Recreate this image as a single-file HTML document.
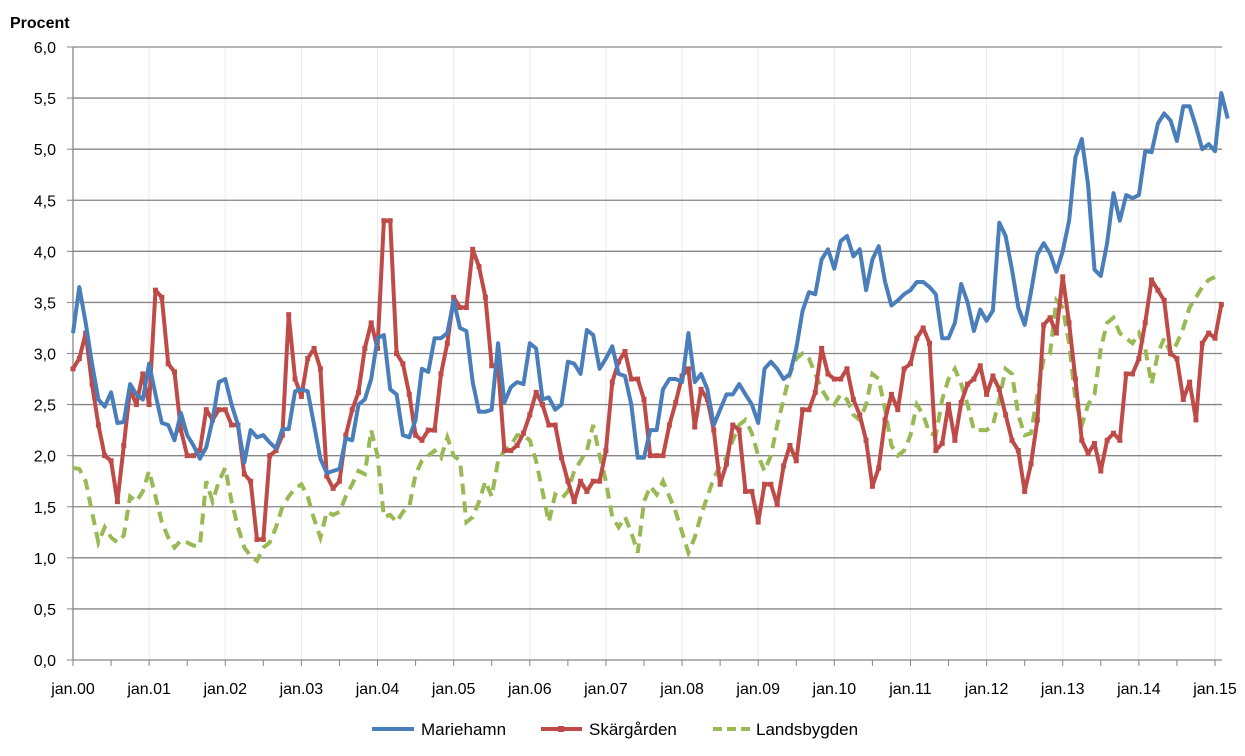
<!DOCTYPE html>
<html><head><meta charset="utf-8"><style>
body{margin:0;background:#fff;}
svg{display:block;font-family:"Liberation Sans",sans-serif;}
</style></head><body>
<svg id="chart" width="1245" height="756">
<text x="10" y="28" font-size="16" font-weight="bold" fill="#000">Procent</text>
<g id="grid"></g><g id="axes"></g><g id="series"></g>
<g>
<g><line x1="372" y1="729" x2="414" y2="729" stroke="#4A7EBB" stroke-width="4"/><text x="421" y="735" font-size="17">Mariehamn</text></g>
<g><line x1="541" y1="729" x2="582" y2="729" stroke="#BE4B48" stroke-width="4"/><rect x="558" y="726" width="6" height="6" fill="#BE4B48"/><text x="589" y="735" font-size="17">Skärgården</text></g>
<g><line x1="713" y1="729" x2="752" y2="729" stroke="#98B954" stroke-width="4" stroke-dasharray="9,5"/><text x="756" y="735" font-size="17">Landsbygden</text></g>
</g>
</svg>
<script>
const yTicks=["0,0","0,5","1,0","1,5","2,0","2,5","3,0","3,5","4,0","4,5","5,0","5,5","6,0"];
const xLabels=["jan.00","jan.01","jan.02","jan.03","jan.04","jan.05","jan.06","jan.07","jan.08","jan.09","jan.10","jan.11","jan.12","jan.13","jan.14","jan.15"];
const mariehamn=[3.2,3.65,3.3,2.9,2.55,2.48,2.62,2.32,2.33,2.7,2.6,2.55,
2.9,2.6,2.32,2.3,2.15,2.42,2.2,2.1,1.97,2.08,2.35,2.72,
2.75,2.5,2.3,1.93,2.25,2.18,2.2,2.13,2.07,2.26,2.26,2.63,
2.65,2.63,2.3,1.97,1.83,1.85,1.87,2.17,2.15,2.5,2.55,2.75,
3.15,3.18,2.65,2.6,2.2,2.18,2.35,2.85,2.82,3.15,3.15,3.2,
3.52,3.25,3.22,2.72,2.43,2.43,2.45,3.1,2.52,2.67,2.72,2.7,
3.1,3.05,2.55,2.57,2.45,2.5,2.92,2.9,2.8,3.23,3.18,2.85,
2.95,3.07,2.8,2.78,2.5,1.98,1.98,2.25,2.25,2.65,2.75,2.75,
2.72,3.2,2.72,2.8,2.65,2.3,2.45,2.6,2.6,2.7,2.6,2.5,
2.32,2.85,2.92,2.85,2.75,2.8,3.05,3.42,3.6,3.58,3.92,4.02,
3.83,4.1,4.15,3.95,4.02,3.62,3.92,4.05,3.7,3.47,3.52,3.58,
3.62,3.7,3.7,3.65,3.58,3.15,3.15,3.3,3.68,3.5,3.22,3.43,
3.32,3.42,4.28,4.15,3.82,3.45,3.28,3.6,3.97,4.08,3.98,3.8,
4.0,4.3,4.92,5.1,4.65,3.82,3.76,4.08,4.57,4.3,4.55,4.52,
4.55,4.98,4.97,5.25,5.35,5.28,5.08,5.42,5.42,5.22,5.0,5.05,
4.98,5.55,5.3];
const skargarden=[2.85,2.95,3.2,2.7,2.3,2.0,1.95,1.55,2.1,2.65,2.5,2.8,
2.5,3.62,3.55,2.9,2.82,2.25,2.0,2.0,2.05,2.45,2.35,2.45,
2.45,2.3,2.3,1.82,1.75,1.18,1.18,2.0,2.05,2.2,3.38,2.75,
2.58,2.95,3.05,2.85,1.8,1.68,1.75,2.2,2.45,2.62,3.05,3.3,
3.05,4.3,4.3,3.0,2.9,2.6,2.2,2.15,2.25,2.25,2.8,3.1,
3.55,3.45,3.45,4.02,3.85,3.55,2.88,2.88,2.05,2.05,2.1,2.22,
2.4,2.62,2.5,2.3,2.3,1.98,1.75,1.55,1.75,1.65,1.75,1.75,
2.05,2.72,2.92,3.02,2.75,2.75,2.55,2.0,2.0,2.0,2.3,2.52,
2.78,2.85,2.28,2.65,2.55,2.25,1.72,1.92,2.3,2.25,1.65,1.65,
1.35,1.72,1.72,1.52,1.9,2.1,1.95,2.45,2.45,2.62,3.05,2.8,
2.75,2.75,2.85,2.55,2.4,2.15,1.7,1.88,2.35,2.6,2.45,2.85,
2.9,3.15,3.25,3.1,2.05,2.12,2.5,2.15,2.52,2.7,2.75,2.88,
2.6,2.78,2.65,2.4,2.15,2.05,1.65,1.92,2.35,3.28,3.35,3.2,
3.75,3.3,2.75,2.15,2.02,2.12,1.85,2.15,2.22,2.15,2.8,2.8,
2.95,3.3,3.72,3.62,3.52,3.0,2.95,2.55,2.72,2.35,3.1,3.2,
3.15,3.48];
const landsbygden=[1.88,1.87,1.75,1.45,1.15,1.3,1.2,1.15,1.22,1.6,1.55,1.65,
1.85,1.6,1.35,1.2,1.1,1.17,1.15,1.12,1.12,1.75,1.55,1.75,
1.88,1.55,1.3,1.1,1.02,0.97,1.1,1.15,1.3,1.5,1.6,1.68,
1.72,1.6,1.38,1.2,1.45,1.42,1.45,1.6,1.72,1.85,1.82,2.25,
2.0,1.4,1.42,1.35,1.45,1.5,1.82,1.95,2.0,2.05,1.98,2.18,
2.0,1.95,1.35,1.4,1.55,1.75,1.6,1.95,2.05,2.1,2.2,2.2,
2.15,1.95,1.65,1.35,1.62,1.58,1.65,1.85,1.95,2.05,2.3,2.0,
1.75,1.4,1.3,1.4,1.25,1.05,1.55,1.7,1.62,1.75,1.6,1.45,
1.25,1.05,1.2,1.42,1.6,1.78,1.9,1.98,2.15,2.3,2.35,2.22,
2.0,1.85,2.0,2.3,2.55,2.8,2.95,3.0,2.95,2.8,2.65,2.55,
2.5,2.6,2.55,2.4,2.35,2.5,2.8,2.75,2.45,2.1,2.0,2.05,
2.2,2.5,2.4,2.22,2.2,2.55,2.75,2.85,2.7,2.5,2.25,2.25,
2.25,2.3,2.55,2.85,2.8,2.4,2.2,2.22,2.6,2.95,3.0,3.52,
3.45,3.1,2.55,2.3,2.5,2.6,3.05,3.3,3.35,3.2,3.15,3.1,
3.2,3.05,2.7,3.0,3.15,3.0,3.1,3.25,3.45,3.55,3.65,3.72,
3.75];
const NS="http://www.w3.org/2000/svg";
const X0=73,X1=1215,Y0=660,Y1=47,VMAX=6;
const xs=m=>X0+(X1-X0)*m/180;
const ys=v=>Y0-(Y0-Y1)*v/VMAX;
function mk(tag,attrs,parent){const e=document.createElementNS(NS,tag);for(const k in attrs)e.setAttribute(k,attrs[k]);parent.appendChild(e);return e;}
const grid=document.getElementById('grid'),axes=document.getElementById('axes'),ser=document.getElementById('series');
xLabels.forEach((l,i)=>{const x=xs(i*12);
 if(i>0){const g=mk('line',{x1:x,x2:x,y1:Y1,y2:Y0,stroke:'#ebebeb','stroke-width':1},grid);
 
 }
 const t=mk('text',{x:x,y:694,'font-size':16,'text-anchor':'middle',fill:'#000'},axes);t.textContent=l;
 
 
});
for(let m=0;m<=180;m+=6){mk('line',{x1:xs(m),x2:xs(m),y1:Y0,y2:Y0+6,stroke:'#868686'},axes);}
yTicks.forEach((l,i)=>{const v=i*0.5,y=ys(v);
 if(i>0){const g=mk('line',{x1:X0,x2:1222,y1:y,y2:y,stroke:'#868686','stroke-width':1.3},grid);
 
 }
 mk('line',{x1:X0-6,x2:X0,y1:y,y2:y,stroke:'#868686'},axes);
 const t=mk('text',{x:56,y:y+6,'font-size':16,'text-anchor':'end',fill:'#000'},axes);t.textContent=l;
 
 
});
mk('line',{x1:X0,x2:1222,y1:Y0,y2:Y0,stroke:'#868686','stroke-width':1.3},axes);
mk('line',{x1:X0,x2:X0,y1:Y1,y2:Y0,stroke:'#868686','stroke-width':1.3},axes);
function pts(a){return a.map((v,i)=>xs(i).toFixed(1)+','+ys(v).toFixed(1)).join(' ');}
const g3=mk('polyline',{points:pts(landsbygden),fill:'none',stroke:'#98B954','stroke-width':4,'stroke-dasharray':'11,7'},ser);


const g2=mk('polyline',{points:pts(skargarden),fill:'none',stroke:'#BE4B48','stroke-width':4,'stroke-linejoin':'round'},ser);


skargarden.forEach((v,i)=>{const r=mk('rect',{x:xs(i)-2.5,y:ys(v)-2.5,width:5,height:5,fill:'#BE4B48'},ser);
 
 });
const g1=mk('polyline',{points:pts(mariehamn),fill:'none',stroke:'#4A7EBB','stroke-width':4,'stroke-linejoin':'round'},ser);


</script>
</body></html>
